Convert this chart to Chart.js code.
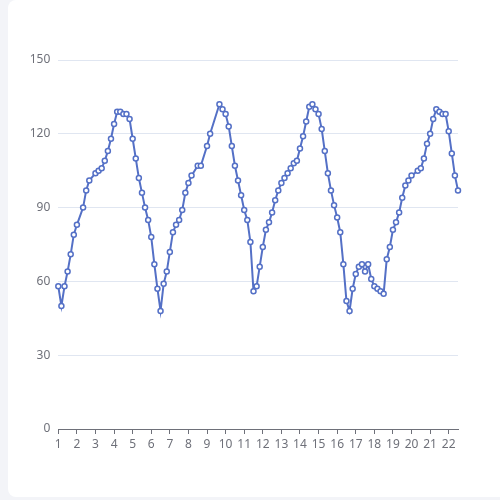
<!DOCTYPE html>
<html>
<head>
<meta charset="utf-8">
<script src="https://cdn.jsdelivr.net/npm/chart.js@4"></script>
<style>
  html, body { margin: 0; padding: 0; background: #f3f4f8; }
  .tarjeta { position: absolute; left: 8px; top: 0; width: 520px; height: 497px; background: #fff; border-radius: 8px; }
  #grafico { position: absolute; left: 0; top: 0; }
</style>
</head>
<body>
<div class="tarjeta"></div>
<canvas id="grafico" width="500" height="500"></canvas>
<script>
// horas desde el dia 1 a las 00:00 (lecturas cada 4 horas, con huecos)
const horas = [
  0, 4, 8, 12, 16, 20, 24, 32, 36, 40, 48, 52, 56, 60, 64, 68, 72, 76, 80, 84, 88, 92,
  96, 100, 104, 108, 112, 116, 120, 124, 128, 132, 136, 140, 144, 148, 152, 156, 160, 164,
  168, 172, 180, 184, 192, 196, 208, 212, 216, 220, 224, 228, 232, 236, 240, 244, 248, 252,
  256, 260, 264, 268, 272, 276, 280, 284, 288, 292, 296, 300, 304, 308, 312, 316, 320, 324,
  328, 332, 336, 340, 344, 348, 352, 356, 360, 364, 368, 372, 376, 380, 384, 388, 392, 396,
  400, 404, 408, 412, 416, 420, 424, 428, 432, 436, 440, 444, 448, 452, 456, 464, 468, 472,
  476, 480, 484, 488, 492, 496, 500, 504, 508, 512, 516
];
const valores = [
  58, 50, 58, 64, 71, 79, 83, 90, 97, 101, 104, 105, 106, 109, 113, 118, 124, 129, 129, 128, 128, 126,
  118, 110, 102, 96, 90, 85, 78, 67, 57, 48, 59, 64, 72, 80, 83, 85, 89, 96,
  100, 103, 107, 107, 115, 120, 132, 130, 128, 123, 115, 107, 101, 95, 89, 85, 76, 56,
  58, 66, 74, 81, 84, 88, 93, 97, 100, 102, 104, 106, 108, 109, 114, 119, 125, 131,
  132, 130, 128, 122, 113, 104, 97, 91, 86, 80, 67, 52, 48, 57, 63, 66, 67, 64,
  67, 61, 58, 57, 56, 55, 69, 74, 81, 84, 88, 94, 99, 101, 103, 105, 106, 110,
  116, 120, 126, 130, 129, 128, 128, 121, 112, 103, 97
];
// dias del mes que se marcan en el eje x
const dias = [1, 2, 3, 4, 5, 6, 7, 8, 9, 10, 11, 12, 13, 14, 15, 16, 17, 18, 19, 20, 21, 22];
const ticksY = [0, 30, 60, 90, 120, 150];

const colorLinea = "#5470c6";
const colorTexto = "#6e7079";

const puntos = horas.map((h, i) => ({ x: h, y: valores[i] }));

const config = {
  type: "line",
  data: {
    datasets: [{
      data: puntos,
      borderColor: colorLinea,
      borderWidth: 2,
      pointRadius: 2.5,
      pointBorderWidth: 1.5,
      pointBackgroundColor: "#fff",
      pointBorderColor: colorLinea,
      tension: 0,
      clip: false
    }]
  },
  options: {
    responsive: false,
    animation: false,
    layout: { padding: { left: 0, right: 42, top: 60, bottom: 0 } },
    plugins: { legend: { display: false }, tooltip: { enabled: false } },
    scales: {
      x: {
        type: "linear",
        min: horas[0],
        max: horas[horas.length - 1],
        afterBuildTicks: (s) => {
          s.ticks = dias.map(d => ({ value: (d - 1) * 24 }));
        },
        afterFit: (s) => { s.height = 71; },
        ticks: {
          autoSkip: false,
          maxRotation: 0,
          padding: 3,
          color: colorTexto,
          font: { family: "'Noto Sans', sans-serif", size: 12 },
          callback: (v) => v / 24 + 1
        },
        grid: { drawOnChartArea: false, drawTicks: true, tickLength: 5, color: colorTexto, lineWidth: 1 },
        border: { display: true, color: colorTexto, width: 1 }
      },
      y: {
        min: 0,
        max: 150,
        afterBuildTicks: (s) => { s.ticks = ticksY.map(v => ({ value: v })); },
        afterFit: (s) => { s.width = 58.3; },
        ticks: {
          padding: 8,
          color: colorTexto,
          font: { family: "'Noto Sans', sans-serif", size: 12 }
        },
        grid: { color: "#e0e6f1", drawTicks: false, lineWidth: 1 },
        border: { display: false }
      }
    }
  }
};

new Chart(document.getElementById("grafico"), config);
</script>
</body>
</html>
